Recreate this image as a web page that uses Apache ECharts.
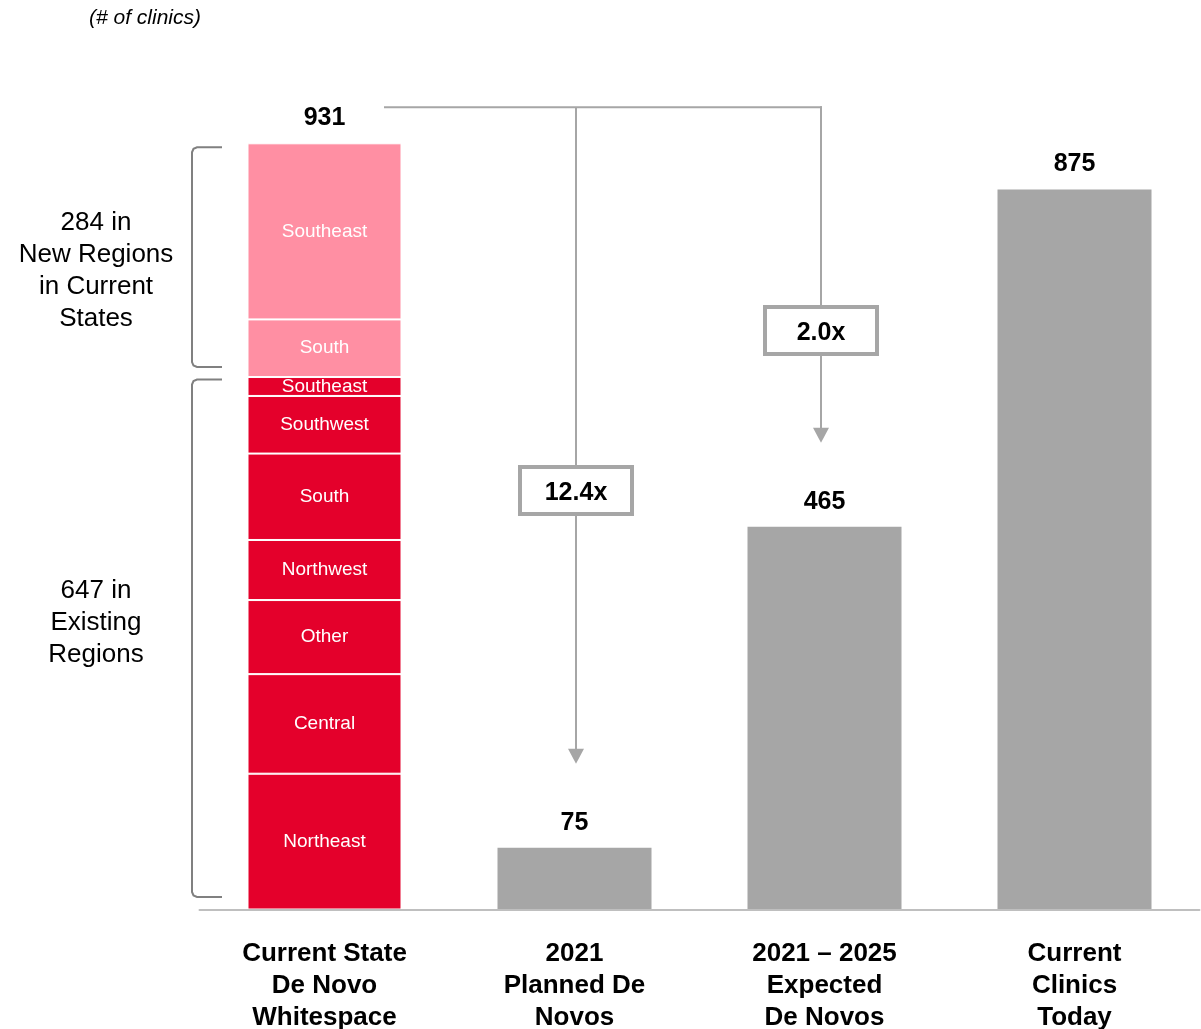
<!DOCTYPE html>
<html>
<head>
<meta charset="utf-8">
<script src="https://cdn.jsdelivr.net/npm/echarts@6/dist/echarts.min.js"></script>
<style>
  html, body { margin: 0; padding: 0; background: #fff; }
  #chart { width: 1201px; height: 1029px; }
</style>
</head>
<body>
<div id="chart"></div>
<script>
// Category labels along the baseline
const categories = [
  'Current State\nDe Novo\nWhitespace',
  '2021\nPlanned De\nNovos',
  '2021 – 2025\nExpected\nDe Novos',
  'Current\nClinics\nToday'
];

// Whitespace in existing regions (bottom to top)
const existingRegions = ['Northeast', 'Central', 'Other', 'Northwest', 'South', 'Southwest', 'Southeast'];
const existingCounts  = [165, 121, 90, 73, 105, 70, 23];

// Whitespace in new regions within current states (bottom to top)
const newRegions = ['South', 'Southeast'];
const newCounts  = [70, 214];

// Planned 2021, expected 2021–2025, current clinics
const clinicBars = [75, 465, 875];

const sum = a => a.reduce((s, v) => s + v, 0);
const existingTotal = sum(existingCounts);
const newTotal = sum(newCounts);
const whitespaceTotal = existingTotal + newTotal;
const totals = [whitespaceTotal].concat(clinicBars);

const FONT = '"Liberation Sans", Arial, Helvetica, sans-serif';
const RED = '#E4002B';
const PINK = '#FF8FA3';
const GREY = '#A6A6A6';
const LINE = '#A6A6A6';

function segmentSeries(name, value, color, key) {
  return {
    id: key,
    name: name,
    type: 'bar',
    stack: 'total',
    barWidth: 154,
    data: [value, '-', '-', '-'],
    itemStyle: { color: color, borderColor: '#fff', borderWidth: 1 },
    label: {
      show: true,
      position: 'inside',
      formatter: name,
      color: '#fff',
      fontFamily: FONT,
      fontSize: 19
    },
    silent: true
  };
}

const series = [];
existingRegions.forEach((r, i) => series.push(segmentSeries(r, existingCounts[i], RED, 'ex' + i)));
newRegions.forEach((r, i) => series.push(segmentSeries(r, newCounts[i], PINK, 'nw' + i)));
series.push({
  id: 'clinics',
  type: 'bar',
  stack: 'total',
  barWidth: 154,
  data: ['-'].concat(clinicBars),
  itemStyle: { color: GREY },
  silent: true
});
// Value labels on top of every bar
series.push({
  id: 'totals',
  type: 'scatter',
  symbolSize: 0,
  data: totals,
  itemStyle: { opacity: 1 },
  label: {
    show: true,
    position: 'top',
    distance: 10,
    color: '#000',
    fontFamily: FONT,
    fontWeight: 'bold',
    fontSize: 25,
    lineHeight: 30
  },
  silent: true
});

const chart = echarts.init(document.getElementById('chart'));
chart.setOption({
  animation: false,
  backgroundColor: '#fff',
  title: {
    text: '(# of clinics)',
    left: 84,
    top: 3,
    textStyle: { fontFamily: FONT, fontStyle: 'italic', fontWeight: 'normal', fontSize: 21, color: '#000' }
  },
  grid: { left: 199.5, right: 1.5, top: 143.3, bottom: 119.5, outerBoundsMode: 'none', containLabel: false },
  xAxis: {
    type: 'category',
    data: categories,
    z: 5,
    axisLine: { lineStyle: { color: '#BFBFBF', width: 2 } },
    axisTick: { show: false },
    axisLabel: {
      interval: 0,
      margin: 28,
      color: '#000',
      fontFamily: FONT,
      fontWeight: 'bold',
      fontSize: 26,
      lineHeight: 32
    }
  },
  yAxis: { type: 'value', min: 0, max: whitespaceTotal, show: false, splitLine: { show: false } },
  series: series
});

// Brackets, growth multiples and connector arrows
const px = (i, v) => chart.convertToPixel({ gridIndex: 0 }, [i, v]);
const x0 = px(0, 0)[0];
const x1 = px(1, 0)[0];
const x2 = px(2, 0)[0];
const yBase = px(0, 0)[1];
const yExisting = px(0, existingTotal)[1];
const yTop = px(0, whitespaceTotal)[1];

function bracket(yA, yB) {
  const xv = x0 - 132.5, xe = x0 - 102.5, r = 5;
  return {
    type: 'polyline',
    shape: {
      points: [
        [xe, yA], [xv + r, yA], [xv + r * 0.3, yA + r * 0.3], [xv, yA + r],
        [xv, yB - r], [xv + r * 0.3, yB - r * 0.3], [xv + r, yB], [xe, yB]
      ]
    },
    style: { stroke: '#808080', lineWidth: 2, fill: null }
  };
}

function sideText(text, y) {
  return {
    type: 'text',
    x: 96, y: y,
    style: {
      text: text, fontFamily: FONT, fontSize: 26, lineHeight: 32,
      fill: '#000', align: 'center', verticalAlign: 'middle'
    }
  };
}

function multBox(cx, cy, text) {
  return [
    { type: 'rect', shape: { x: cx - 56, y: cy - 23.5, width: 112, height: 47 },
      style: { fill: '#fff', stroke: LINE, lineWidth: 4 }, z: 10 },
    { type: 'text', x: cx, y: cy + 3, z: 11,
      style: { text: text, fontFamily: FONT, fontWeight: 'bold', fontSize: 25,
               fill: '#000', align: 'center', verticalAlign: 'middle' } }
  ];
}

function arrowDown(x, yFrom, yTip) {
  return [
    { type: 'line', shape: { x1: x, y1: yFrom, x2: x, y2: yTip - 14 }, style: { stroke: LINE, lineWidth: 2 } },
    { type: 'polygon', shape: { points: [[x - 8, yTip - 15], [x + 8, yTip - 15], [x, yTip]] }, style: { fill: LINE } }
  ];
}

const lineY = yTop - 36;
const xa = x1 + 1.5, xb = x2 - 3.5;
const tipA = px(1, clinicBars[0])[1] - 84;
const tipB = px(2, clinicBars[1])[1] - 84;
const boxA = 490.5, boxB = 330.5;
const multA = (whitespaceTotal / clinicBars[0]).toFixed(1) + 'x';
const multB = (whitespaceTotal / clinicBars[1]).toFixed(1) + 'x';

const graphics = [
  bracket(yTop + 4, yExisting - 10),
  bracket(yExisting + 2.5, yBase - 12.5),
  sideText(newTotal + ' in\nNew Regions\nin Current\nStates', 271),
  sideText(existingTotal + ' in\nExisting\nRegions', 623),
  { type: 'line', shape: { x1: x0 + 59.5, y1: lineY, x2: xb + 1, y2: lineY }, style: { stroke: LINE, lineWidth: 2 } },
  { type: 'line', shape: { x1: xa, y1: lineY, x2: xa, y2: boxA - 24 }, style: { stroke: LINE, lineWidth: 2 } },
  { type: 'line', shape: { x1: xb, y1: lineY - 1, x2: xb, y2: boxB - 24 }, style: { stroke: LINE, lineWidth: 2 } }
]
  .concat(arrowDown(xa, boxA + 24, tipA))
  .concat(arrowDown(xb, boxB + 24, tipB))
  .concat(multBox(xa, boxA, multA))
  .concat(multBox(xb, boxB, multB));

chart.setOption({ graphic: graphics });
</script>
</body>
</html>
